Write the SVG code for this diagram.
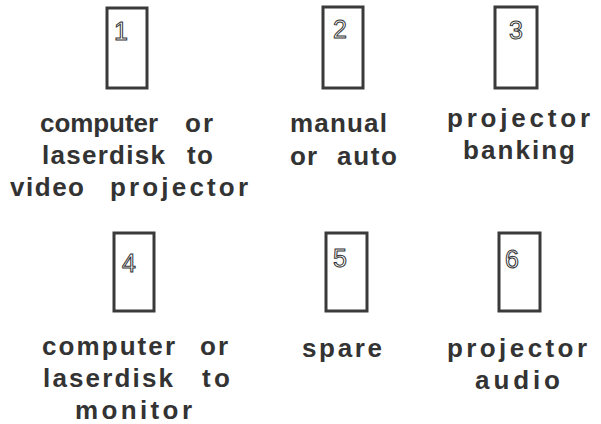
<svg xmlns="http://www.w3.org/2000/svg" width="601" height="424" viewBox="0 0 601 424">
<style>
.box{fill:#fff;stroke:#3a3a3a;stroke-width:3}
.num{font-family:"Liberation Sans",Arial,sans-serif;font-size:25px;fill:#fff;stroke:#333;stroke-width:1}
.lbl{font-family:"Liberation Sans",Arial,sans-serif;font-size:26px;font-weight:bold;fill:#333}
</style>
<rect width="601" height="424" fill="#fff"/>
<g id="node1">
<rect class="box" x="107" y="8" width="40" height="80"/>
<text class="num" x="114" y="40">1</text>
<text class="lbl" x="40" y="132" textLength="118" lengthAdjust="spacing">computer</text>
<text class="lbl" x="185" y="132" textLength="28" lengthAdjust="spacing">or</text>
<text class="lbl" x="42" y="164" textLength="123" lengthAdjust="spacing">laserdisk</text>
<text class="lbl" x="187" y="164" textLength="26" lengthAdjust="spacing">to</text>
<text class="lbl" x="10" y="196" textLength="74" lengthAdjust="spacing">video</text>
<text class="lbl" x="110" y="196" textLength="138" lengthAdjust="spacing">projector</text>
</g>
<g id="node2">
<rect class="box" x="323" y="7" width="40" height="81"/>
<text class="num" x="333" y="38">2</text>
<text class="lbl" x="290" y="132" textLength="97" lengthAdjust="spacing">manual</text>
<text class="lbl" x="290" y="165" textLength="27" lengthAdjust="spacing">or</text>
<text class="lbl" x="337" y="165" textLength="60" lengthAdjust="spacing">auto</text>
</g>
<g id="node3">
<rect class="box" x="495" y="7" width="42" height="81"/>
<text class="num" x="509" y="39">3</text>
<text class="lbl" x="447" y="127" textLength="143" lengthAdjust="spacing">projector</text>
<text class="lbl" x="463" y="159" textLength="112" lengthAdjust="spacing">banking</text>
</g>
<g id="node4">
<rect class="box" x="114" y="233" width="40" height="78"/>
<text class="num" x="122" y="272">4</text>
<text class="lbl" x="42" y="355" textLength="133" lengthAdjust="spacing">computer</text>
<text class="lbl" x="200" y="355" textLength="28" lengthAdjust="spacing">or</text>
<text class="lbl" x="43" y="387" textLength="130" lengthAdjust="spacing">laserdisk</text>
<text class="lbl" x="202" y="387" textLength="28" lengthAdjust="spacing">to</text>
<text class="lbl" x="75" y="419" textLength="117" lengthAdjust="spacing">monitor</text>
</g>
<g id="node5">
<rect class="box" x="326" y="233" width="41" height="78"/>
<text class="num" x="333" y="267">5</text>
<text class="lbl" x="302" y="357" textLength="80" lengthAdjust="spacing">spare</text>
</g>
<g id="node6">
<rect class="box" x="499" y="233" width="41" height="78"/>
<text class="num" x="505" y="268">6</text>
<text class="lbl" x="447" y="357" textLength="140" lengthAdjust="spacing">projector</text>
<text class="lbl" x="475" y="389" textLength="85" lengthAdjust="spacing">audio</text>
</g>
<g id="connectors"/>
</svg>
